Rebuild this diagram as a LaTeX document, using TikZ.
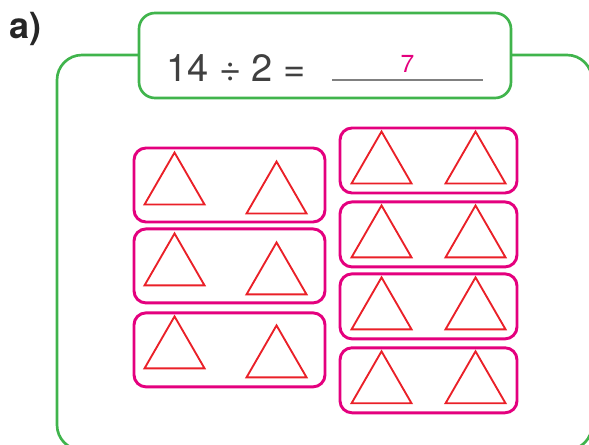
\documentclass[tikz,border=0pt]{standalone}
\usepackage{fontspec}
\setmainfont{TeX Gyre Heros}
\usetikzlibrary{shapes.geometric, positioning, calc}
\definecolor{framegreen}{RGB}{64, 180, 76}
\definecolor{groupmagenta}{RGB}{228, 0, 126}
\definecolor{trired}{RGB}{234, 32, 40}
\definecolor{linegray}{RGB}{128, 128, 128}

\begin{document}
\begin{tikzpicture}[
        x=0.75pt, y=-0.75pt,
        % Styles
        frame/.style={draw=framegreen, line width=2pt, rounded corners=18.75pt},
        qbox/.style={
            rectangle,
            draw=framegreen,
            line width=2pt,
            rounded corners=12pt,
            fill=white,
            minimum width=279pt,
            minimum height=63.75pt
        },
        group/.style={
            rectangle,
            draw=groupmagenta,
            line width=2.2pt,
            rounded corners=9pt
        },
        widegroup/.style={group, minimum width=143.25pt, minimum height=55.5pt},
        narrowgroup/.style={group, minimum width=132.75pt, minimum height=48.75pt},
        tri/.style={
            regular polygon,
            regular polygon sides=3,
            draw=trired,
            line width=1.4pt,
            inner sep=0pt,
            outer sep=0pt,
            minimum size=51.96pt,
            anchor=corner 1
        },
        blank/.style={draw=linegray, line width=1.5pt}
    ]

    \path[use as bounding box, clip] (0,0) rectangle (589,445);

    % ==============================
    % 1. FRAME AND QUESTION
    % ==============================
    \draw[frame] (57,55) rectangle (592,450);

    \node[qbox] (question) at (325,55.5) {};

    \node[anchor=base west, inner sep=0pt, font=\bfseries\fontsize{27}{31}\selectfont, text=black!85] (label) at (9,39) {a)};

    \node[anchor=base west, inner sep=0pt, font=\fontsize{28.5}{32}\selectfont, text=black!75] (equation) at (166,82) {14 ÷ 2 =};

    \coordinate (blank_l) at (332,80);
    \coordinate (blank_r) at (483,80);
    \draw[blank] (blank_l) -- (blank_r);

    \node[anchor=base, inner sep=0pt, font=\fontsize{18.5}{22}\selectfont, text=groupmagenta] (answer) at ($(blank_l)!0.5!(blank_r)+(0,-7)$) {7};

    % ==============================
    % 2. LEFT GROUPS
    % ==============================
    \node[widegroup] (left_a) at (229.5,185) {};
    \node[widegroup, below=3pt of left_a] (left_b) {};
    \node[widegroup, below=5.25pt of left_b] (left_c) {};

    \node[tri] (left_a1) at ($(left_a.north west)+(42,6)$) {};
    \node[tri] (left_a2) at ($(left_a.north west)+(144,15)$) {};
    \node[tri] (left_b1) at ($(left_b.north west)+(42,6)$) {};
    \node[tri] (left_b2) at ($(left_b.north west)+(144,15)$) {};
    \node[tri] (left_c1) at ($(left_c.north west)+(42,5)$) {};
    \node[tri] (left_c2) at ($(left_c.north west)+(144,14)$) {};

    % ==============================
    % 3. RIGHT GROUPS
    % ==============================
    \node[narrowgroup] (right_a) at (428.5,160.5) {};
    \node[narrowgroup, below=4.5pt of right_a] (right_b) {};
    \node[narrowgroup, below=3pt of right_b] (right_c) {};
    \node[narrowgroup, below=4.5pt of right_c] (right_d) {};

    \node[tri] (right_a1) at ($(right_a.north west)+(43,5)$) {};
    \node[tri] (right_a2) at ($(right_a.north west)+(137,5)$) {};
    \node[tri] (right_b1) at ($(right_b.north west)+(43,5)$) {};
    \node[tri] (right_b2) at ($(right_b.north west)+(137,5)$) {};
    \node[tri] (right_c1) at ($(right_c.north west)+(43,5)$) {};
    \node[tri] (right_c2) at ($(right_c.north west)+(137,5)$) {};
    \node[tri] (right_d1) at ($(right_d.north west)+(43,5)$) {};
    \node[tri] (right_d2) at ($(right_d.north west)+(137,5)$) {};

\end{tikzpicture}
\end{document}
